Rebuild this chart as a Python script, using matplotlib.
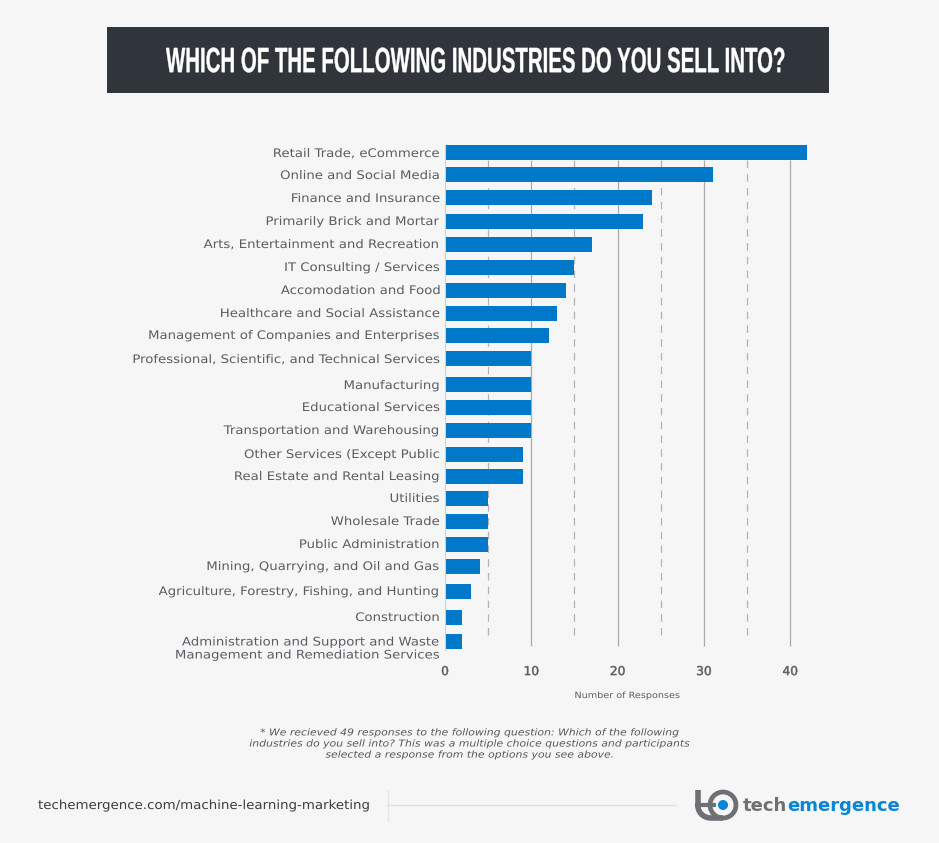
import matplotlib
matplotlib.use("Agg")
import matplotlib.pyplot as plt
from matplotlib.patches import Rectangle, Circle, Arc
from matplotlib.patheffects import AbstractPathEffect
from matplotlib.transforms import Affine2D

W, H = 939, 843
BG = "#F6F6F6"
BLUE = "#0078C9"
GREY = "#5A5E63"

industries = [
    "Retail Trade, eCommerce",
    "Online and Social Media",
    "Finance and Insurance",
    "Primarily Brick and Mortar",
    "Arts, Entertainment and Recreation",
    "IT Consulting / Services",
    "Accomodation and Food",
    "Healthcare and Social Assistance",
    "Management of Companies and Enterprises",
    "Professional, Scientific, and Technical Services",
    "Manufacturing",
    "Educational Services",
    "Transportation and Warehousing",
    "Other Services (Except Public",
    "Real Estate and Rental Leasing",
    "Utilities",
    "Wholesale Trade",
    "Public Administration",
    "Mining, Quarrying, and Oil and Gas",
    "Agriculture, Forestry, Fishing, and Hunting",
    "Construction",
    "Administration and Support and Waste\nManagement and Remediation Services",
]
responses = [42, 31, 24, 23, 17, 15, 14, 13, 12, 10, 10, 10, 10, 9, 9, 5, 5, 5, 4, 3, 2, 2]
# rows are not evenly spaced in the original, pixel centre of each one
row_y = [153, 175, 198, 221, 244, 267, 290, 313, 335, 359, 385,
         407, 430, 454, 476, 498, 521, 544, 566, 591, 617, 641]
solid_ticks = [10, 20, 30, 40]
dashed_ticks = [5, 15, 25, 35]

title = "WHICH OF THE FOLLOWING INDUSTRIES DO YOU SELL INTO?"
footnote = ("* We recieved 49 responses to the following question: Which of the following\n"
            "industries do you sell into? This was a multiple choice questions and participants\n"
            "selected a response from the options you see above.")
url = "techemergence.com/machine-learning-marketing"


# no condensed or tracked fonts here, so stretch the glyphs when they are drawn
class Stretch(AbstractPathEffect):
    def __init__(self, sx=1, anchor_x=0, sy=1, anchor_y=0, stroke=0):
        super().__init__()
        self.st = (Affine2D().translate(-anchor_x, -anchor_y).scale(sx, sy)
                   .translate(anchor_x, anchor_y))
        self.stroke = stroke

    def draw_path(self, renderer, gc, tpath, affine, rgbFace=None):
        gc0 = renderer.new_gc()
        gc0.copy_properties(gc)
        if self.stroke:
            gc0.set_linewidth(self.stroke)
            gc0.set_foreground(rgbFace)
        renderer.draw_path(gc0, tpath, affine + self.st, rgbFace)
        gc0.restore()


fig = plt.figure(figsize=(W / 100, H / 100), dpi=100, facecolor=BG)

# page layer in pixel coordinates
page = fig.add_axes([0, 0, 1, 1])
page.set_xlim(0, W)
page.set_ylim(H, 0)
page.axis("off")

page.add_patch(Rectangle((107, 27), 722, 66, fc="#30353C", ec="none"))

title_txt = page.text(475.5, 61.5, title, color="white", ha="center", va="center", fontsize=13.5,
                      family="Liberation Sans", fontweight="bold")
title_w = title_txt.get_window_extent(fig.canvas.get_renderer()).width
title_txt.set_path_effects([Stretch(619 / title_w, 475.5, 1.88, H - 59, stroke=0.25)])

page.text(471, 744, footnote, color="#55585C", ha="center", va="center", fontsize=6.8,
          style="italic", linespacing=1.3, path_effects=[Stretch(1.15, 471)])
page.text(38, 805.5, url, color="#3A3D41", ha="left", va="center", fontsize=9,
          path_effects=[Stretch(1.07, 38)])
page.plot([388, 388], [790, 821], color="#E6E6E6", lw=1)
page.plot([388, 676], [805, 805], color="#E0E0E0", lw=1)

# logo
logo_grey = "#6E7073"
logo_blue = "#0A84D6"
page.plot([698, 698], [790, 806], color=logo_grey, lw=4, solid_capstyle="butt")
page.plot([695, 716], [805, 805], color=logo_grey, lw=3, solid_capstyle="butt")
page.add_patch(Arc((711, 806), 26, 24, theta1=90, theta2=180, color=logo_grey, lw=4))
page.plot([711, 723], [818, 818], color=logo_grey, lw=4, solid_capstyle="butt")
page.add_patch(Arc((723, 805), 26, 26, theta1=0, theta2=360, color=logo_grey, lw=3.4))
page.add_patch(Circle((723, 805), 5, fc=logo_blue, ec="none"))
page.text(787, 806, "tech", color=logo_grey, ha="right", va="center", fontsize=13, fontweight="bold")
page.text(787, 806, "emergence", color=logo_blue, ha="left", va="center", fontsize=13, fontweight="bold")

# chart, y axis runs in page pixels and x keeps the response scale
left, right, top, bottom = 445, 830, 140, 652
ax = fig.add_axes([left / W, 1 - bottom / H, (right - left) / W, (bottom - top) / H])
ax.patch.set_alpha(0)
ax.set_xlim(0, (right - left) / 8.63)
ax.set_ylim(bottom, top)

ax.vlines(solid_ticks, 160, 646, color="#ABABAB", lw=0.9, zorder=1)
ax.vlines(dashed_ticks, 160, 640, color="#B4B4B4", lw=0.9, linestyles=(0, (6, 5)), zorder=1)
ax.barh(row_y, responses, height=15, color=BLUE, zorder=2)

for side in ["top", "right", "bottom"]:
    ax.spines[side].set_visible(False)
ax.spines["left"].set_color("#D0D0D0")
ax.spines["left"].set_bounds(145, 650)

ax.set_yticks(row_y, industries)
ax.tick_params(axis="y", length=0, pad=3.6, labelsize=8.5, labelcolor=GREY)
ylabels = ax.get_yticklabels()
for lab in ylabels:
    lab.set_linespacing(1.0)
    lab.set_path_effects([Stretch(1.125, 440)])
    lab.set_transform(lab.get_transform() + Affine2D().translate(0, 1))
# two line label hangs below its bar instead of centring on it
ylabels[-1].set_transform(ylabels[-1].get_transform() + Affine2D().translate(0, -7))

ax.set_xticks([0] + solid_ticks)
ax.tick_params(axis="x", length=0, pad=9.4, labelsize=8.8, labelcolor=GREY)
for lab in ax.get_xticklabels():
    lab.set_path_effects([Stretch(stroke=0.35)])

page.text(627.5, 695.5, "Number of Responses", color=GREY, ha="center", va="center", fontsize=6.2,
          path_effects=[Stretch(1.12, 627.5)])

fig.savefig("out.png", dpi=100, facecolor=BG)
